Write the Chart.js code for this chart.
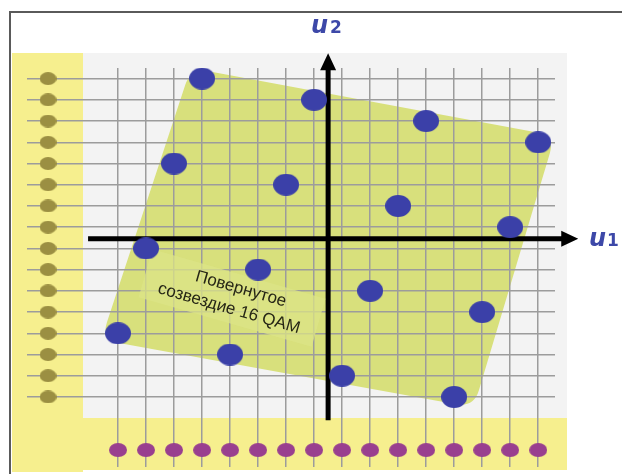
<!DOCTYPE html>
<html>
<head>
<meta charset="utf-8">
<script src="https://cdn.jsdelivr.net/npm/chart.js@4.4.1/dist/chart.umd.min.js"></script>
<style>
  html, body { margin: 0; padding: 0; background: #fff; }
  canvas { display: block; }
</style>
</head>
<body>
<canvas id="qam" width="622" height="474"></canvas>
<script>
// rotated 16-QAM constellation points (u1, u2)
const pointU = [-4.5, -0.5, 3.5, 7.5, -5.5, -1.5, 2.5, 6.5, -6.5, -2.5, 1.5, 5.5, -7.5, -3.5, 0.5, 4.5];
const pointV = [7.5, 6.5, 5.5, 4.5, 3.5, 2.5, 1.5, 0.5, -0.5, -1.5, -2.5, -3.5, -4.5, -5.5, -6.5, -7.5];
// the 16 projection levels on each axis (also the grid lines)
const levels = [-7.5, -6.5, -5.5, -4.5, -3.5, -2.5, -1.5, -0.5, 0.5, 1.5, 2.5, 3.5, 4.5, 5.5, 6.5, 7.5];
const projU = -10;   // where the u2 projections sit
const projV = -10;   // where the u1 projections sit
// rotated square behind the constellation
const shapeU = [-4.9, 8.1, 5.2, -8.1];
const shapeV = [8.0, 4.8, -8.0, -4.8];
const caption = ['Повернутое', 'созвездие 16 QAM'];

function ellipse(w, h, color) {
  const c = document.createElement('canvas');
  c.width = w; c.height = h;
  const g = c.getContext('2d');
  g.fillStyle = color;
  g.beginPath();
  g.ellipse(w / 2, h / 2, w / 2, h / 2, 0, 0, Math.PI * 2);
  g.fill();
  return c;
}

const bluePt = ellipse(26, 22, '#3b40a8');
const olivePt = ellipse(17, 13, '#9b8f42');
const purplePt = ellipse(18, 14, '#993f8f');

function roundedPoly(ctx, pts, r) {
  const n = pts.length;
  ctx.beginPath();
  for (let i = 0; i < n; i++) {
    const p0 = pts[(i + n - 1) % n], p1 = pts[i], p2 = pts[(i + 1) % n];
    const d1 = Math.hypot(p0[0] - p1[0], p0[1] - p1[1]);
    const d2 = Math.hypot(p2[0] - p1[0], p2[1] - p1[1]);
    const a = [p1[0] + (p0[0] - p1[0]) * r / d1, p1[1] + (p0[1] - p1[1]) * r / d1];
    const b = [p1[0] + (p2[0] - p1[0]) * r / d2, p1[1] + (p2[1] - p1[1]) * r / d2];
    if (i === 0) ctx.moveTo(a[0], a[1]); else ctx.lineTo(a[0], a[1]);
    ctx.quadraticCurveTo(p1[0], p1[1], b[0], b[1]);
  }
  ctx.closePath();
}

const backdrop = {
  id: 'backdrop',
  beforeDraw(chart) {
    const { ctx, scales: { x, y } } = chart;
    ctx.save();
    ctx.fillStyle = '#ffffff';
    ctx.fillRect(0, 0, chart.width, chart.height);
    // light grey panel
    ctx.fillStyle = '#f3f3f3';
    ctx.fillRect(83, 53, 484, 366);
    // yellow L-shaped bands
    ctx.fillStyle = '#f6ef8e';
    ctx.fillRect(12, 53, 71, 419);
    ctx.fillRect(83, 418, 484, 52);
    // frame
    ctx.strokeStyle = '#5a5a5a';
    ctx.lineWidth = 2;
    ctx.beginPath();
    ctx.moveTo(10, 474); ctx.lineTo(10, 12); ctx.lineTo(622, 12);
    ctx.stroke();
    // rotated square
    const pts = shapeU.map((u, i) => [x.getPixelForValue(u), y.getPixelForValue(shapeV[i])]);
    ctx.fillStyle = '#d8e07c';
    roundedPoly(ctx, pts, 18);
    ctx.fill();
    ctx.restore();
  },
  beforeDatasetsDraw(chart) {
    const { ctx, scales: { x, y } } = chart;
    ctx.save();
    // axes with arrows
    const x0 = x.getPixelForValue(0), y0 = y.getPixelForValue(0) + 1;
    ctx.strokeStyle = '#000';
    ctx.fillStyle = '#000';
    ctx.lineWidth = 5;
    const vTop = y.getPixelForValue(8.7), vBot = y.getPixelForValue(-8.6);
    const hL = x.getPixelForValue(-8.57), hR = x.getPixelForValue(8.93);
    ctx.beginPath();
    ctx.moveTo(x0, vBot); ctx.lineTo(x0, vTop + 12);
    ctx.moveTo(hL, y0); ctx.lineTo(hR - 12, y0);
    ctx.stroke();
    ctx.beginPath();
    ctx.moveTo(x0, vTop); ctx.lineTo(x0 - 8, vTop + 17); ctx.lineTo(x0 + 8, vTop + 17); ctx.closePath();
    ctx.moveTo(hR, y0); ctx.lineTo(hR - 17, y0 - 8); ctx.lineTo(hR - 17, y0 + 8); ctx.closePath();
    ctx.fill();

    // caption box and text
    ctx.translate(232, 298);
    ctx.rotate(16 * Math.PI / 180);
    ctx.fillStyle = 'rgba(220,228,135,0.75)';
    ctx.fillRect(-90, -25, 180, 50);
    ctx.fillStyle = '#262616';
    ctx.font = '17px "Liberation Sans", Arial, sans-serif';
    ctx.textAlign = 'center';
    ctx.textBaseline = 'middle';
    ctx.fillText(caption[0], 6, -11);
    ctx.fillText(caption[1], 0, 11);
    ctx.restore();

    // axis names
    ctx.save();
    ctx.fillStyle = '#3d48a8';
    ctx.textBaseline = 'alphabetic';
    ctx.font = 'italic bold 24px "DejaVu Sans", sans-serif';
    ctx.fillText('u', 311, 33);
    ctx.fillText('u', 589, 246);
    ctx.font = 'bold 17px "DejaVu Sans", sans-serif';
    ctx.fillText('2', 330, 33);
    ctx.fillText('1', 607, 246);
    ctx.restore();
  }
};

const gridScale = (min, max) => ({
  type: 'linear',
  min, max,
  ticks: { display: false },
  grid: { color: '#9c9c9c', lineWidth: 1.5, drawTicks: false },
  border: { display: false },
  afterBuildTicks: s => { s.ticks = levels.map(v => ({ value: v })); }
});

new Chart(document.getElementById('qam'), {
  type: 'scatter',
  data: {
    datasets: [
      {
        label: 'u2 levels',
        data: levels.map(v => ({ x: projU, y: v })),
        pointStyle: olivePt
      },
      {
        label: 'u1 levels',
        data: levels.map(u => ({ x: u, y: projV })),
        pointStyle: purplePt
      },
      {
        label: '16 QAM',
        data: pointU.map((u, i) => ({ x: u, y: pointV[i] })),
        pointStyle: bluePt
      }
    ]
  },
  options: {
    responsive: false,
    animation: false,
    layout: { padding: { left: 27, right: 67, top: 68, bottom: 7 } },
    scales: {
      x: gridScale(-10.75, 8.1),
      y: gridScale(-10.8, 8.0)
    },
    plugins: { legend: { display: false }, tooltip: { enabled: false } }
  },
  plugins: [backdrop]
});
</script>
</body>
</html>
